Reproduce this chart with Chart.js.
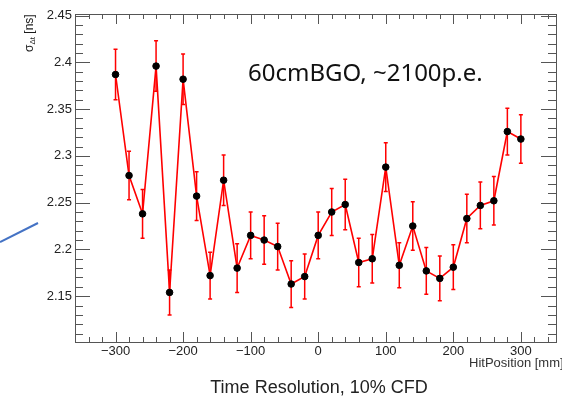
<!DOCTYPE html>
<html lang="en">
<head>
    <meta charset="UTF-8">
    <title>Time Resolution, 10% CFD</title>
    <script src="https://cdn.jsdelivr.net/npm/chart.js"></script>
    <style>
        html, body { margin: 0; padding: 0; background: #fff; overflow: hidden; }
        #wrap { position: relative; width: 562px; height: 397px; overflow: hidden; }
        #chart { position: absolute; left: 0; top: 0; }
        .note { position: absolute; white-space: nowrap; color: #1a1a1a; }
        #ytitle { left: 22px; top: 52px; font: 12px "Liberation Sans", Arial, sans-serif; line-height: 14px;
                  transform: rotate(-90deg); transform-origin: left top; }
        #ytitle sub { font-size: 8px; vertical-align: -2px; }
        #xtitle { left: 469px; top: 356px; font: 13px "Liberation Sans", Arial, sans-serif; line-height: 14px; color: #333; }
        #label { left: 248px; top: 58px; font: 24px "Noto Sans", sans-serif; line-height: 28px; color: #111; }
        #caption { left: 319px; top: 377px; transform: translateX(-50%); font: 18px "Liberation Sans", Arial, sans-serif; line-height: 20px; color: #222; }
    </style>
</head>
<body>
<div id="wrap">
    <canvas id="chart" width="562" height="397"></canvas>
    <svg width="562" height="397" style="position:absolute;left:0;top:0;pointer-events:none">
        <line x1="0" y1="242" x2="38" y2="223" stroke="#4472C4" stroke-width="2"/>
    </svg>
    <div id="ytitle" class="note">σ<sub>Δt</sub> [ns]</div>
    <div id="xtitle" class="note">HitPosition [mm]</div>
    <div id="label" class="note">60cmBGO, ~2100p.e.</div>
    <div id="caption" class="note">Time Resolution, 10% CFD</div>
</div>

<script>
    // hit position along the crystal [mm]
    const positions = [-300, -280, -260, -240, -220, -200, -180, -160, -140, -120, -100, -80, -60, -40, -20,
                       0, 20, 40, 60, 80, 100, 120, 140, 160, 180, 200, 220, 240, 260, 280, 300];
    // sigma of delta t [ns]
    const resolution = [2.387, 2.279, 2.238, 2.396, 2.154, 2.382, 2.257, 2.172, 2.274, 2.180, 2.215, 2.210, 2.203, 2.163, 2.171,
                        2.215, 2.240, 2.248, 2.186, 2.190, 2.288, 2.183, 2.225, 2.177, 2.169, 2.181, 2.233, 2.247, 2.252, 2.326, 2.318];
    const resolutionErr = [0.027, 0.026, 0.026, 0.027, 0.024, 0.027, 0.026, 0.025, 0.027, 0.026, 0.025, 0.026, 0.025, 0.025, 0.024,
                           0.025, 0.025, 0.027, 0.026, 0.026, 0.026, 0.024, 0.026, 0.025, 0.024, 0.024, 0.026, 0.025, 0.026, 0.025, 0.026];

    const xTickValues = [-300, -200, -100, 0, 100, 200, 300];
    const yTickValues = [2.15, 2.2, 2.25, 2.3, 2.35, 2.4, 2.45];

    const tickFont = { family: '"Liberation Sans", Arial, sans-serif', size: 13 };

    // ROOT-style error bars, drawn under the markers
    const errorBars = {
        id: 'errorBars',
        beforeDatasetsDraw(chart) {
            const { ctx, scales: { x, y } } = chart;
            ctx.save();
            ctx.strokeStyle = '#ff0000';
            ctx.lineWidth = 1.5;
            positions.forEach((p, i) => {
                const px = x.getPixelForValue(p);
                const top = y.getPixelForValue(resolution[i] + resolutionErr[i]);
                const bot = y.getPixelForValue(resolution[i] - resolutionErr[i]);
                ctx.beginPath();
                ctx.moveTo(px, top); ctx.lineTo(px, bot);
                ctx.moveTo(px - 2, top); ctx.lineTo(px + 2, top);
                ctx.moveTo(px - 2, bot); ctx.lineTo(px + 2, bot);
                ctx.stroke();
            });
            ctx.restore();
        }
    };

    // frame with inward major/minor ticks on all four sides
    const frameTicks = {
        id: 'frameTicks',
        afterDraw(chart) {
            const { ctx, chartArea: a, scales: { x, y } } = chart;
            ctx.save();
            ctx.strokeStyle = '#555';
            ctx.lineWidth = 1;
            ctx.strokeRect(Math.round(a.left) + 0.5, Math.round(a.top) + 0.5,
                           Math.round(a.right - a.left), Math.round(a.bottom - a.top));
            ctx.beginPath();
            for (let v = -360; v <= 360; v += 20) {
                if (v < x.min || v > x.max) continue;
                const px = Math.round(x.getPixelForValue(v)) + 0.5;
                const len = v % 100 === 0 ? 10 : 5;
                ctx.moveTo(px, a.bottom); ctx.lineTo(px, a.bottom - len);
                ctx.moveTo(px, a.top); ctx.lineTo(px, a.top + len);
            }
            for (let k = 211; k <= 245; k++) {
                const v = k / 100;
                if (v < y.min || v > y.max) continue;
                const py = Math.round(y.getPixelForValue(v)) + 0.5;
                const len = k % 5 === 0 ? 15 : 8;
                ctx.moveTo(a.left, py); ctx.lineTo(a.left + len, py);
                ctx.moveTo(a.right, py); ctx.lineTo(a.right - len, py);
            }
            ctx.stroke();
            ctx.restore();
        }
    };

    new Chart(document.getElementById('chart'), {
        type: 'line',
        data: {
            datasets: [{
                data: positions.map((p, i) => ({ x: p, y: resolution[i] })),
                borderColor: '#ff0000',
                borderWidth: 1.6,
                tension: 0,
                pointRadius: 3.3,
                pointBackgroundColor: '#000',
                pointBorderColor: '#000',
                pointBorderWidth: 1
            }]
        },
        options: {
            responsive: false,
            animation: false,
            layout: { padding: { top: 14, right: 6, left: 0, bottom: 0 } },
            plugins: { legend: { display: false }, tooltip: { enabled: false } },
            scales: {
                x: {
                    type: 'linear',
                    min: -360,
                    max: 352,
                    grid: { display: false, drawTicks: false },
                    border: { display: false },
                    afterBuildTicks: s => { s.ticks = xTickValues.map(v => ({ value: v })); },
                    afterFit: s => { s.height = 55; },
                    ticks: {
                        padding: 2,
                        color: '#222',
                        font: tickFont,
                        maxRotation: 0,
                        callback: v => (v < 0 ? '\u2212' + Math.abs(v) : String(v))
                    }
                },
                y: {
                    min: 2.101,
                    max: 2.4517,
                    grid: { display: false, drawTicks: false },
                    border: { display: false },
                    afterBuildTicks: s => { s.ticks = yTickValues.map(v => ({ value: v })); },
                    afterFit: s => { s.width = 75; },
                    ticks: {
                        padding: 3,
                        color: '#222',
                        font: tickFont,
                        callback: v => String(+v.toFixed(2))
                    }
                }
            }
        },
        plugins: [errorBars, frameTicks]
    });
</script>
</body>
</html>
